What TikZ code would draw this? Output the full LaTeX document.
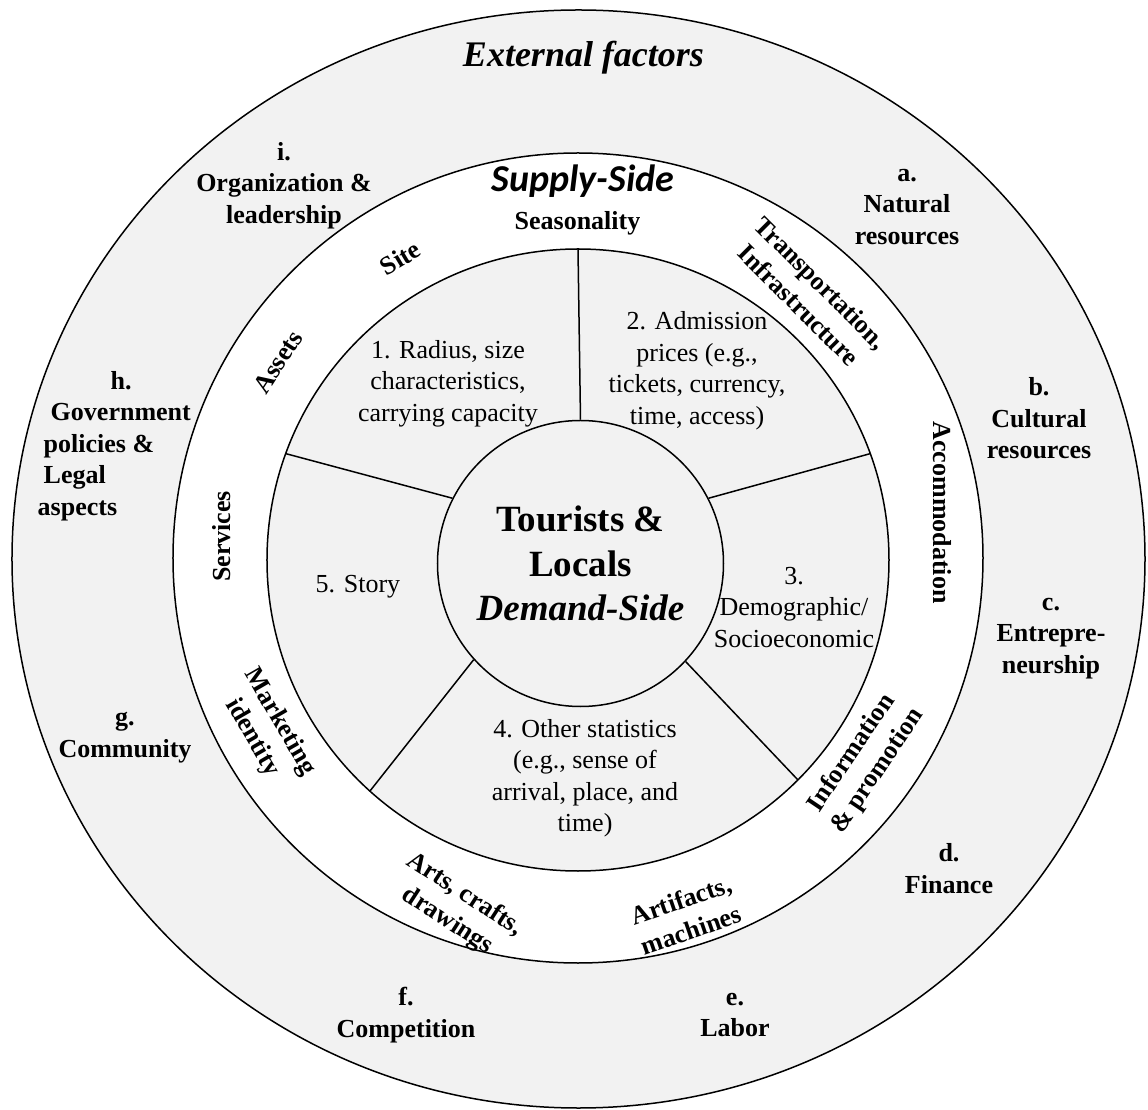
\documentclass[tikz,border=0pt]{standalone}
\usepackage{fontspec}
\setmainfont{Liberation Serif}
\newfontfamily\supplyfont{Carlito}
\usepackage{tikz}
\usetikzlibrary{positioning,calc}
\definecolor{diskgrey}{HTML}{F2F2F2}

\begin{document}
\begin{tikzpicture}[x=1pt,y=1pt,line width=1.5pt,
                ext node/.style={font=\bfseries\fontsize{26}{31.5}\selectfont,align=center,inner sep=0pt},
                ring node/.style={ext node},
                sector node/.style={font=\fontsize{26}{31.5}\selectfont,align=center,inner sep=0pt},
                hub node/.style={circle,draw,fill=diskgrey,minimum size=286pt,inner sep=0pt,
                  font=\bfseries\fontsize{37}{44.5}\selectfont,align=center}]

  \useasboundingbox (-578,-551) rectangle (570,559);

  % the three discs
  \draw[fill=diskgrey] (0.5,0) ellipse [x radius=566.5pt, y radius=549pt];
  \draw[fill=white] (0,1) circle [radius=405pt];
  \draw[fill=diskgrey] (0,-1) circle [radius=311pt];

  \node[hub node] (hub) at (2.5,-4.5) {Tourists \&\\Locals\\\textit{Demand-Side}};

  % sector borders
  \foreach \a/\b in {90/90,27/20,153/160,-43/-45,222/228}
    \draw (hub.\a) -- ($(0,-1)+(\b:311)$);

  % external factors
  \node[font=\bfseries\itshape\fontsize{36}{44.5}\selectfont,inner sep=0pt,anchor=base] (ext) at (5.5,492) {External factors};
  \node[ext node] (a) at (329,352) {a.\\Natural\\resources};
  \node[ext node] (b) at (461,140.5) {b.\\Cultural\\resources};
  \node[ext node] (c) at (473,-79.5) {c.\\Entrepre-\\neurship};
  \node[ext node] (d) at (371,-309.5) {d.\\Finance};
  \node[ext node] (e) at (157,-456) {e.\\Labor};
  \node[ext node] (f) at (-172,-456) {f.\\Competition};
  \node[ext node] (g) at (-453,-178.5) {g.\\Community};
  \node[ext node,align=left,anchor=west] (h) at (-541,113)
    {\hspace*{73pt}h.\\\hspace*{13pt}Government\\\hspace*{6pt}policies \&\\\hspace*{6pt}Legal\\aspects};
  \node[ext node] (i) at (-294,373.5) {i.\\Organization \&\\leadership};

  % supply side ring
  \node[font=\supplyfont\bfseries\itshape\fontsize{38}{44.5}\selectfont,inner sep=0pt,anchor=base] (supply) at (5,367) {Supply-Side};
  \node[ring node,anchor=base] (season) at (-0.5,329) {Seasonality};
  \node[ring node,rotate=31] (site) at (-178,301) {Site};
  \node[ring node,rotate=57] (assets) at (-300,197) {Assets};
  \node[ring node,rotate=90] (services) at (-356,22.5) {Services};
  \node[ring node,rotate=-60] (marketing) at (-312,-171) {Marketing\\identity};
  \node[ring node,rotate=-33] (arts) at (-122,-349) {Arts, crafts,\\drawings};
  \node[ring node,rotate=19] (artifacts) at (108,-356) {Artifacts,\\machines};
  \node[ring node,rotate=56] (info) at (287,-203) {Information\\\& promotion};
  \node[ring node,rotate=-90] (accom) at (364,46.5) {Accommodation};
  \node[ring node,rotate=-45] (transport) at (232,265) {Transportation,\\Infrastructure};

  % sectors
  \node[sector node] (s1) at (-130,175.5) {1. Radius, size\\characteristics,\\carrying capacity};
  \node[sector node] (s2) at (119,188) {2. Admission\\prices (e.g.,\\tickets, currency,\\time, access)};
  \node[sector node] (s3) at (216,-48.5) {3.\\Demographic/\\Socioeconomic};
  \node[sector node] (s4) at (7,-219) {4. Other statistics\\(e.g., sense of\\arrival, place, and\\time)};
  \node[sector node,anchor=base] (s5) at (-220,-34) {5. Story};
\end{tikzpicture}
\end{document}
